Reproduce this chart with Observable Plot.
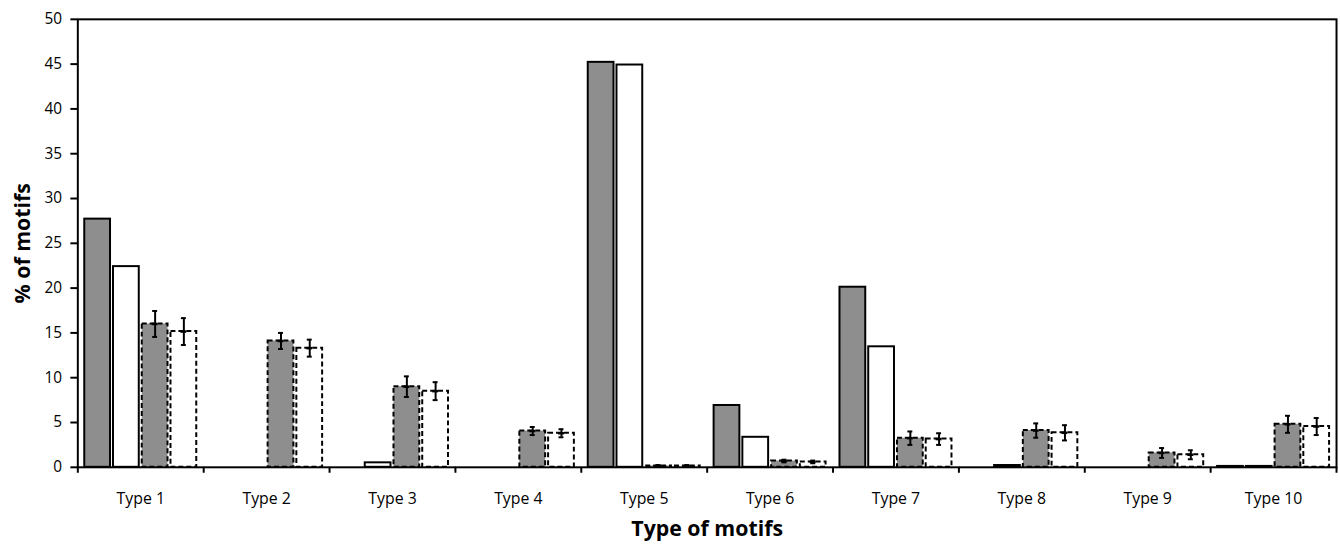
<!DOCTYPE html>
<html>
<head>
<meta charset="utf-8">
<script src="https://cdn.jsdelivr.net/npm/d3@7"></script>
<script src="https://cdn.jsdelivr.net/npm/@observablehq/plot@0.6"></script>
<style>
  html, body { margin: 0; padding: 0; background: #fff; overflow: hidden; }
  #chart svg { display: block; }
</style>
</head>
<body>
<div id="chart"></div>
<script>
// ---- data ----
const types = ["Type 1", "Type 2", "Type 3", "Type 4", "Type 5", "Type 6", "Type 7", "Type 8", "Type 9", "Type 10"];
const seriesKeys = ["Grey solid", "White solid", "Grey dashed", "White dashed"];

const greySolid   = [27.7, 0, 0, 0, 45.2, 6.9, 20.1, 0, 0, 0.1];
const whiteSolid  = [22.4, 0, 0.5, 0, 44.9, 3.35, 13.45, 0.2, 0, 0.1];
const greyDashed  = [16.0, 14.1, 9.0, 4.05, 0.15, 0.7, 3.25, 4.1, 1.6, 4.8];
const greyDashedErr  = [1.45, 0.9, 1.15, 0.45, 0.1, 0.15, 0.75, 0.8, 0.55, 0.95];
const whiteDashed = [15.15, 13.3, 8.5, 3.8, 0.15, 0.6, 3.15, 3.85, 1.4, 4.55];
const whiteDashedErr = [1.5, 0.95, 1.0, 0.45, 0.1, 0.15, 0.65, 0.85, 0.5, 0.95];

const yTicks = [0, 5, 10, 15, 20, 25, 30, 35, 40, 45, 50];

// ---- build long tables ----
const solidRows = [];
const dashedRows = [];
types.forEach((t, i) => {
  if (greySolid[i] > 0) solidRows.push({type: t, series: seriesKeys[0], value: greySolid[i]});
  if (whiteSolid[i] > 0) solidRows.push({type: t, series: seriesKeys[1], value: whiteSolid[i]});
  dashedRows.push({type: t, series: seriesKeys[2], value: greyDashed[i], err: greyDashedErr[i]});
  dashedRows.push({type: t, series: seriesKeys[3], value: whiteDashed[i], err: whiteDashedErr[i]});
});

const W = 1352, mL = 78, mR = 4;
const halfStep = (W - mL - mR) / types.length / 2;
const font = "'Open Sans', Lato, sans-serif";

const chart = Plot.plot({
  width: W,
  height: 548,
  marginLeft: mL,
  marginRight: mR,
  marginTop: 19,
  marginBottom: 77,
  style: {fontFamily: font, color: "#000", background: "#fff"},
  fx: {domain: types, padding: 0, axis: null},
  x: {domain: seriesKeys, paddingInner: 0.09, paddingOuter: 0.2, axis: null},
  y: {domain: [0, 50], axis: null},
  color: {domain: seriesKeys, range: ["#8e8e8e", "#ffffff", "#8e8e8e", "#ffffff"]},
  marks: [
    Plot.barY(solidRows, {fx: "type", x: "series", y: "value", fill: "series", stroke: "#000", strokeWidth: 2}),
    Plot.barY(dashedRows, {fx: "type", x: "series", y: "value", fill: "series", stroke: "#000", strokeWidth: 2, strokeDasharray: "5,3"}),
    Plot.ruleX(dashedRows, {fx: "type", x: "series", y1: d => d.value - d.err, y2: d => d.value + d.err, stroke: "#000", strokeWidth: 2}),
    Plot.tickY(dashedRows, {fx: "type", x: "series", y: d => d.value - d.err, stroke: "#000", strokeWidth: 2, insetLeft: 10.5, insetRight: 10.5}),
    Plot.tickY(dashedRows, {fx: "type", x: "series", y: d => d.value + d.err, stroke: "#000", strokeWidth: 2, insetLeft: 10.5, insetRight: 10.5}),
    Plot.tickY(dashedRows, {fx: "type", x: "series", y: "value", stroke: "#000", strokeWidth: 2.5, insetLeft: 10, insetRight: 10}),
    Plot.frame({facet: "super", stroke: "#000", strokeWidth: 2}),
    Plot.axisY({ticks: yTicks, tickSize: 7, tickPadding: 9, fontSize: 15.5, label: null, strokeWidth: 2}),
    Plot.axisFx({anchor: "bottom", tickSize: 0, tickPadding: 26, fontSize: 16, label: null}),
    Plot.axisFx({anchor: "bottom", tickSize: 6, dx: halfStep, tickFormat: () => "", label: null, strokeWidth: 2}),
    Plot.axisFx({anchor: "bottom", ticks: [types[0]], tickSize: 6, dx: -halfStep, tickFormat: () => "", label: null, strokeWidth: 2}),
    Plot.text(["Type of motifs"], {facet: "super", frameAnchor: "bottom", lineAnchor: "bottom", dy: 69, fontSize: 21.5, fontWeight: "bold", fill: "#000"}),
    Plot.text(["% of motifs"], {facet: "super", frameAnchor: "left", textAnchor: "middle", lineAnchor: "middle", dx: -55, rotate: -90, fontSize: 21.5, fontWeight: "bold", fill: "#000"})
  ]
});
document.getElementById("chart").append(chart);
</script>
</body>
</html>
